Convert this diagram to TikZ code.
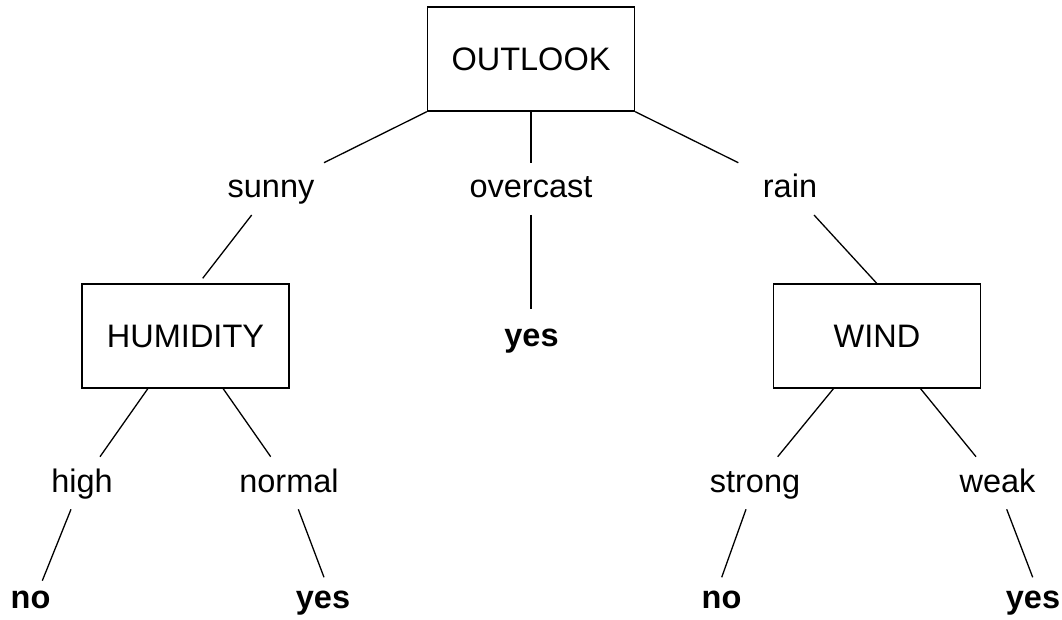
\documentclass[tikz,border=0pt]{standalone}
\usepackage{fontspec}
\setmainfont{Liberation Sans}
\begin{document}
\begin{tikzpicture}[x=1pt,y=-1pt,
  every node/.style={font=\fontsize{32.5}{39}\selectfont},
  attrbox/.style={draw, line width=1.4pt, minimum width=207pt, minimum height=104pt, inner sep=0pt},
  lbl/.style={anchor=base, inner sep=0pt},
  leaf/.style={anchor=base, inner sep=0pt, font=\fontsize{32.5}{39}\selectfont\bfseries},
  conn/.style={line width=1.3pt}]
\useasboundingbox (0,0) rectangle (1062,620);
% boxes
\node[attrbox] (outlook) at (531,59) {OUTLOOK};
\node[attrbox] (hum) at (185.5,336) {HUMIDITY};
\node[attrbox] (wind) at (877,336) {WIND};
% branch labels
\node[lbl] (sunny) at (271,198) {sunny};
\node[lbl] (overcast) at (531,198) {overcast};
\node[lbl] (rain) at (790,198) {rain};
\node[lbl] (high) at (82,492) {high};
\node[lbl] (normal) at (289,492) {normal};
\node[lbl] (strong) at (755,492) {strong};
\node[lbl] (weak) at (997.5,492) {weak};
% leaves
\node[leaf] (yes1) at (531.5,346) {yes};
\node[leaf] (no1) at (30.5,608) {no};
\node[leaf] (yes2) at (323,608) {yes};
\node[leaf] (no2) at (721.5,608) {no};
\node[leaf] (yes3) at (1033,608) {yes};
% connector ends
\coordinate (sunnyT) at (324,162.7);
\coordinate (overT) at (531,162.7);
\coordinate (rainT) at (738.3,162.7);
\coordinate (sunnyB) at (251.7,215);
\coordinate (humT) at (202.7,278.3);
\coordinate (overB) at (531,215);
\coordinate (yes1T) at (531,309.3);
\coordinate (rainB) at (814,215);
\coordinate (windT) at (876.7,283.3);
\coordinate (humBL) at (148.3,388);
\coordinate (humBR) at (222.7,388);
\coordinate (highT) at (100,456.7);
\coordinate (normalT) at (270.7,456.7);
\coordinate (highB) at (71,509.3);
\coordinate (no1T) at (42.3,580.7);
\coordinate (normalB) at (298.3,509.3);
\coordinate (yes2T) at (324,577.3);
\coordinate (windBL) at (834,388);
\coordinate (windBR) at (920,388);
\coordinate (strongT) at (777.7,456.7);
\coordinate (weakT) at (976,456.7);
\coordinate (strongB) at (746,509.3);
\coordinate (no2T) at (721.7,577.3);
\coordinate (weakB) at (1006.7,509.3);
\coordinate (yes3T) at (1032.7,577.3);
% connectors
\draw[conn] (outlook.south west) -- (sunnyT);
\draw[conn] (outlook.south) -- (overT);
\draw[conn] (outlook.south east) -- (rainT);
\draw[conn] (sunnyB) -- (humT);
\draw[conn] (overB) -- (yes1T);
\draw[conn] (rainB) -- (windT);
\draw[conn] (humBL) -- (highT);
\draw[conn] (humBR) -- (normalT);
\draw[conn] (highB) -- (no1T);
\draw[conn] (normalB) -- (yes2T);
\draw[conn] (windBL) -- (strongT);
\draw[conn] (windBR) -- (weakT);
\draw[conn] (strongB) -- (no2T);
\draw[conn] (weakB) -- (yes3T);
\end{tikzpicture}
\end{document}
